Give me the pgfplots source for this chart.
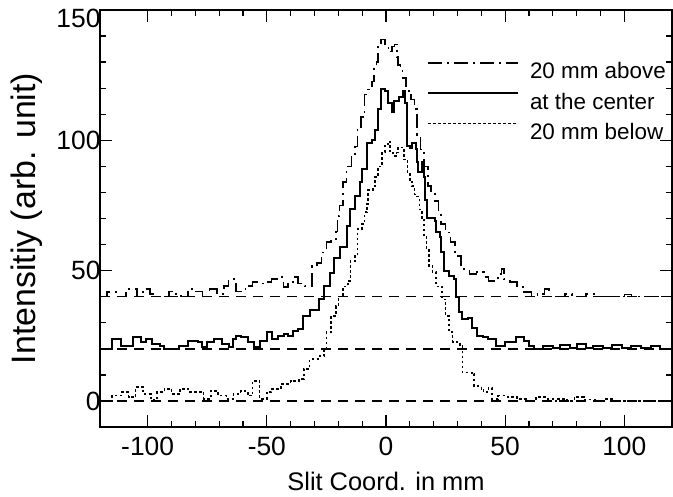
\documentclass[border=0pt]{standalone}
\usepackage{pgfplots}
\pgfplotsset{compat=1.18}
\usepackage{fontspec}
\setmainfont{Liberation Sans}

\begin{document}
\begin{tikzpicture}
\begin{axis}[
  at={(0,0)}, anchor=south west,
  scale only axis, width=572bp, height=417bp,
  xmin=-120, xmax=120, ymin=-10, ymax=150,
  xtick={-100,-50,0,50,100}, ytick={0,50,100,150},
  yticklabels={0,50,100,\raisebox{-17.5bp}[0pt][0pt]{150}},
  minor x tick num=4, minor y tick num=4,
  tick align=inside, major tick length=12bp, minor tick length=6bp,
  axis line style={line width=1.6bp},
  every tick/.style={black, line width=1.3bp},
  tick label style={font=\fontsize{26.5}{31}\selectfont},
  /pgf/number format/assume math mode=true,
  xticklabel style={yshift=-7bp},
  yticklabel style={xshift=4bp},
  xlabel={Slit Coord. in mm},
  ylabel={Intensitiy (arb. unit)},
  xlabel style={font=\fontsize{25.5}{30}\selectfont, at={(axis description cs:0.5,-0.1511)}, anchor=base},
  ylabel style={font=\fontsize{34}{39}\selectfont, at={(axis description cs:-0.1276,0.5)}, anchor=center},
  legend style={draw=none, fill=none, at={(axis description cs:0.5717,0.8753)}, anchor=north west,
    inner sep=0pt, outer sep=0pt, font=\fontsize{22.5}{27}\selectfont, row sep=13.5bp,
    nodes={inner sep=0pt, text height=16bp, text depth=0bp},
    /tikz/every odd column/.append style={column sep=11bp}},
  legend cell align=left,
  legend image code/.code={\draw[#1] (0bp,8bp) -- (90bp,8bp);},
]
% reference baselines
\addplot[black, line width=1.5bp, dash pattern=on 10bp off 7bp, forget plot] coordinates {(-120,0) (120,0)};
\addplot[black, line width=1.5bp, dash pattern=on 10bp off 7bp, forget plot] coordinates {(-120,20) (120,20)};
\addplot[black, line width=1.5bp, dash pattern=on 10bp off 7bp, forget plot] coordinates {(-120,40) (120,40)};

% 20 mm above
\addplot[black, line width=1.6bp, const plot, dash pattern=on 14bp off 5bp on 2bp off 5bp] coordinates {
(-120,40) (-117,41.7) (-113,40) (-109,43) (-104.5,40) (-102,43) (-99,41) (-96,40) (-91,42) (-88,41)
(-86,40) (-83,43) (-80,42) (-77,40) (-74,43) (-71,41) (-68,44) (-66,46.7) (-63,42) (-59,44)
(-56,45.6) (-53,45) (-50,45.6) (-48,46.7) (-45,47.5) (-43,43.7) (-41,45.6) (-39,47.5) (-37,45) (-34,44)
(-31,51.7) (-29,53) (-27,57) (-25,61) (-23,61.3) (-21,65) (-20.4,71) (-19.5,75) (-18,84) (-16.5,90)
(-14.5,94.6) (-13,97.7) (-12,105) (-10.5,109) (-9,117.6) (-7.5,119.5) (-6,122.6) (-5,128) (-4,130) (-3.3,136.8)
(-2,138.7) (-0.5,136.8) (1,134) (2.5,136) (3.5,136.8) (4.5,132) (5,129) (6,128) (7,124) (8.5,119)
(10.5,115.7) (12,112) (13,102) (14.5,96.5) (16,90) (17.5,82.4) (19,80) (20.5,76.6) (22,72.8) (23,68)
(25,64.7) (27,61) (29,55.6) (31.5,50.6) (35,48.7) (38,49.4) (41,47.5) (43,46) (47,48.7) (48.5,50.6)
(49.5,46.7) (52,45.6) (55,43.7) (58,41.7) (61,40) (63.5,41) (66.5,43) (68.5,40) (75,41) (78,40)
(84,41) (88,40) (100,40.8) (103,40) (120,40)
};
\addlegendentry{20 mm above}

% at the center
\addplot[black, line width=2bp, const plot] coordinates {
(-120,20) (-115,23.7) (-111,21) (-106,24.5) (-103,22.6) (-100.5,23.7) (-98,21.8) (-95,21) (-93,20) (-87,21)
(-83,23) (-79,22.6) (-77,20.7) (-75,22.6) (-72,23.7) (-69,21.8) (-66,20.7) (-64,23.7) (-63,25) (-61,24.5)
(-58,22.6) (-55.5,20.7) (-53,23) (-50,26.4) (-48,23.7) (-45.5,25) (-43,25.7) (-41,25) (-39,26.8) (-37,27.6)
(-35,32.6) (-32,35) (-28,39) (-26,44) (-23.5,49) (-22,55) (-19.5,59) (-16.5,67) (-15,73.5) (-13,78.5)
(-11,84) (-10,89) (-8,99) (-6,100) (-4.6,104) (-3.3,112) (-2,119.5) (-0.5,119) (1,114.5) (2.5,111)
(3.5,115) (5.5,116.5) (7,119) (8,114.5) (8.75,97.7) (10,97) (11,99) (12.5,96.5) (13,91.5) (13.5,87.7)
(15,91.5) (16,86) (16.5,77) (17,70) (20.5,69) (21,65) (22.5,63) (23,57) (24.5,50) (26.5,48)
(28.5,46.7) (29.5,40) (30.5,34) (32,31.4) (34.5,32) (36,28) (38,25) (40.5,24.5) (43,23.8) (46,21)
(50,22.6) (54.5,24.5) (58,23) (60,21) (62,20) (66,21.2) (70,20.5) (73,21.5) (77,20.3) (80,21.8)
(84,20.4) (87,21.2) (91,20.2) (95,21.5) (99,20.4) (103,21) (107,20.2) (111,21.2) (115,20) (120,20)
};
\addlegendentry{at the center}

% 20 mm below
\addplot[black, line width=1.5bp, const plot, dash pattern=on 2.5bp off 2.5bp] coordinates {
(-120,0) (-115,2) (-111,3.4) (-108,1.5) (-105,5.4) (-102,2.7) (-98.5,0.4) (-96,3.4) (-93,4.6) (-90,2.7)
(-86.5,4.6) (-83,3.4) (-79,3.4) (-76.5,0.8) (-73.5,3.8) (-70.5,2) (-67,0.8) (-64,2.7) (-61,3.8) (-58,2)
(-56,7.7) (-53,0.8) (-50,3.5) (-48,4.6) (-44,6.5) (-40,7.7) (-36.5,8.4) (-34.5,12.3) (-32,16) (-28,17.2)
(-26,20) (-25,26.4) (-23,32.6) (-21,36.4) (-20,40) (-18,44) (-16,46) (-15,53.6) (-13,55.6) (-12,66)
(-10,67.8) (-9,72.4) (-8,75.5) (-7.5,81) (-5.5,82.4) (-4.6,86) (-3.3,90) (-1.7,95.4) (-0.5,98.5) (1,99.6)
(1.7,95.8) (3,94) (4.5,95.4) (5,97.3) (7.5,92.7) (9,87.7) (10,84) (11,82.4) (12,79.3) (13,78.5)
(14,73.5) (15,69.7) (16,63) (17,58) (18,51.7) (19.5,49.4) (21,44) (23.5,39) (25,32.6) (26.5,26.4)
(28,22.6) (31,21) (32,11) (36,10.3) (37,5.7) (40,4.6) (41,3.4) (43,5) (44.5,0.8) (47,2)
(51,1.5) (55,0.8) (59,0) (63,1.5) (67,0.8) (70,0) (72,0.8) (76,0) (79,1.5) (83,0.5)
(88,0) (92,0.8) (95,0) (120,0)
};
\addlegendentry{20 mm below}
\end{axis}
\pgfresetboundingbox
\path (-100bp,-70bp) rectangle (573bp,427bp);
\end{tikzpicture}
\end{document}
